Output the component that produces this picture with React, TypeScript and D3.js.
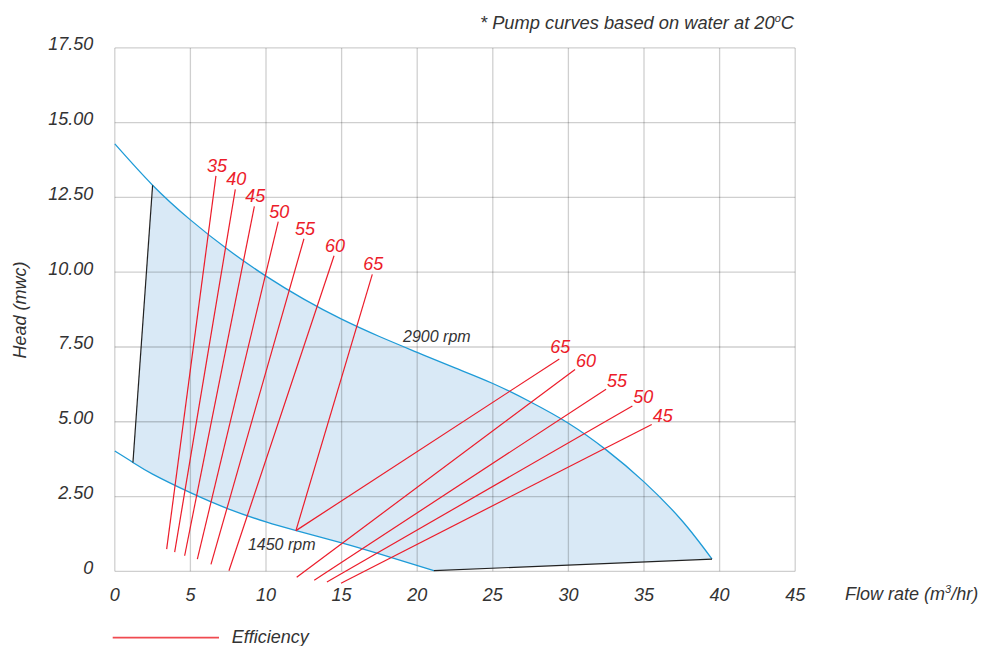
import * as d3 from 'd3';

// pump curves (flow m3/hr, head mwc)
const flow2900 = [0, 2.5, 5, 7.5, 10, 12.5, 15, 17.5, 20, 22.5, 25, 27.5, 30, 32.5, 35, 37.5, 39.5];
const head2900 = [14.29, 12.91, 11.75, 10.75, 9.87, 9.1, 8.43, 7.85, 7.32, 6.8, 6.28, 5.66, 4.95, 4.06, 2.99, 1.7, 0.41];
const flow1450 = [0, 1.2, 2.5, 5, 7.5, 10, 12, 15, 17.5, 21.1];
const head1450 = [4.02, 3.64, 3.25, 2.63, 2.09, 1.65, 1.36, 0.95, 0.58, 0.02];

// efficiency lines, [flow, head] at each end
const effLeft = [35, 40, 45, 50, 55, 60, 65];
const effLeftFrom = [[3.43, 0.74], [3.96, 0.64], [4.62, 0.52], [5.46, 0.41], [6.36, 0.23], [7.55, 0.02], [11.98, 1.36]];
const effLeftTo = [[6.69, 13.22], [7.97, 12.77], [9.23, 12.2], [10.81, 11.69], [12.51, 11.12], [14.5, 10.55], [17.03, 9.93]];
const effRight = [65, 60, 55, 50, 45];
const effRightFrom = [[11.98, 1.36], [12.03, -0.2], [13.19, -0.3], [14.03, -0.36], [14.96, -0.4]];
const effRightTo = [[29.4, 7.1], [30.44, 6.75], [32.49, 6.09], [34.23, 5.53], [35.51, 4.91]];

const xTicks = [0, 5, 10, 15, 20, 25, 30, 35, 40, 45];
const yTicks = [0, 2.5, 5, 7.5, 10, 12.5, 15, 17.5];

const W = 983;
const H = 646;
const FONT = '"Liberation Sans", Arial, Helvetica, sans-serif';
const RED = '#ec1c2a';
const BLUE = '#1e9bd7';
const TEXT = '#333';

export default function App() {
  const x = d3.scaleLinear().domain([0, 45]).range([114.8, 795.2]);
  const y = d3.scaleLinear().domain([0, 17.5]).range([571.3, 47.9]);

  const pts2900: [number, number][] = flow2900.map((f, i) => [f, head2900[i]]);
  const pts1450: [number, number][] = flow1450.map((f, i) => [f, head1450[i]]);

  const line = d3
    .line<[number, number]>()
    .x((d) => x(d[0]))
    .y((d) => y(d[1]))
    .curve(d3.curveNatural);
  const straight = d3
    .line<number[]>()
    .x((d) => x(d[0]))
    .y((d) => y(d[1]));

  const path2900 = line(pts2900) as string;
  const path1450 = line(pts1450) as string;
  // between the two speeds, closed by the bottom edge
  const lowerBack = (line(pts1450.slice().reverse()) as string).replace(/^M/, 'L');
  const region = path2900 + lowerBack + 'Z';

  const leftEdge = [pts1450[1], pts2900[1]];
  const bottomEdge = [pts1450[pts1450.length - 1], pts2900[pts2900.length - 1]];

  // half-plane right of the left edge, extended past the curves
  const [a, b] = leftEdge;
  const k = (b[0] - a[0]) / (b[1] - a[1]);
  const clipPts = [
    [a[0] + k * (-1 - a[1]), -1],
    [a[0] + k * (16 - a[1]), 16],
    [45, 16],
    [45, -1],
  ];

  return (
    <svg width={W} height={H} style={{ position: 'absolute', left: 0, top: 0 }} fontFamily={FONT} fontStyle="italic">
      <defs>
        <clipPath id="right-of-edge">
          <path d={(straight(clipPts) as string) + 'Z'} />
        </clipPath>
      </defs>
      <rect width={W} height={H} fill="#fff" />
      <path d={region} fill="#d9e9f6" clipPath="url(#right-of-edge)" />

      <g stroke="#000" strokeOpacity={0.19} strokeWidth={1.3}>
        {xTicks.map((t) => (
          <line key={'gx' + t} x1={x(t)} x2={x(t)} y1={y(0)} y2={y(17.5)} />
        ))}
        {yTicks.map((t) => (
          <line key={'gy' + t} x1={x(0)} x2={x(45)} y1={y(t)} y2={y(t)} />
        ))}
      </g>

      <g fill={TEXT} fontSize={18}>
        {yTicks.map((t) => (
          <text key={'ty' + t} x={x(0) - 21.5} y={y(t) + 2.5} textAnchor="end">
            {t === 0 ? '0' : t.toFixed(2)}
          </text>
        ))}
        {xTicks.map((t) => (
          <text key={'tx' + t} x={x(t)} y={600.5} textAnchor="middle">
            {t}
          </text>
        ))}
        <text x={845} y={600}>
          Flow rate (m<tspan dy={-7} fontSize={11}>3</tspan>
          <tspan dy={7}>/hr)</tspan>
        </text>
        <text transform="translate(26,310) rotate(-90)" textAnchor="middle">
          Head (mwc)
        </text>
      </g>

      <text x={794} y={29} textAnchor="end" fontSize={18.3} fill={TEXT}>
        * Pump curves based on water at 20<tspan dy={-7} fontSize={11}>o</tspan>
        <tspan dy={7}>C</tspan>
      </text>

      <g fill="none" stroke={BLUE} strokeWidth={1.3}>
        <path d={path2900} />
        <path d={path1450} />
      </g>
      <g fill="none" stroke="#222" strokeWidth={1.2}>
        <path d={straight(leftEdge) as string} />
        <path d={straight(bottomEdge) as string} />
      </g>

      <g stroke={RED} strokeWidth={1.2}>
        {effLeft.map((e, i) => (
          <line key={'el' + i} x1={x(effLeftFrom[i][0])} y1={y(effLeftFrom[i][1])} x2={x(effLeftTo[i][0])} y2={y(effLeftTo[i][1])} />
        ))}
        {effRight.map((e, i) => (
          <line key={'er' + i} x1={x(effRightFrom[i][0])} y1={y(effRightFrom[i][1])} x2={x(effRightTo[i][0])} y2={y(effRightTo[i][1])} />
        ))}
      </g>
      <g fill={RED} fontSize={18}>
        {effLeft.map((e, i) => (
          <text key={'ll' + i} x={x(effLeftTo[i][0]) + 1} y={y(effLeftTo[i][1]) - 4} textAnchor="middle">
            {e}
          </text>
        ))}
        {effRight.map((e, i) => (
          <text key={'lr' + i} x={x(effRightTo[i][0]) + (i === 0 ? -9 : 1)} y={y(effRightTo[i][1]) - (i === 0 ? 6 : 2.5)}>
            {e}
          </text>
        ))}
      </g>

      <g fill={TEXT} fontSize={16}>
        <text x={x(21.3)} y={y(7.67)} textAnchor="middle">2900 rpm</text>
        <text x={x(11.04)} y={y(0.7)} textAnchor="middle">1450 rpm</text>
      </g>

      <line x1={112.7} x2={219} y1={637.7} y2={637.7} stroke="#f04a50" strokeWidth={1.8} />
      <text x={231.7} y={643} fontSize={18} fill={TEXT}>
        Efficiency
      </text>
    </svg>
  );
}
